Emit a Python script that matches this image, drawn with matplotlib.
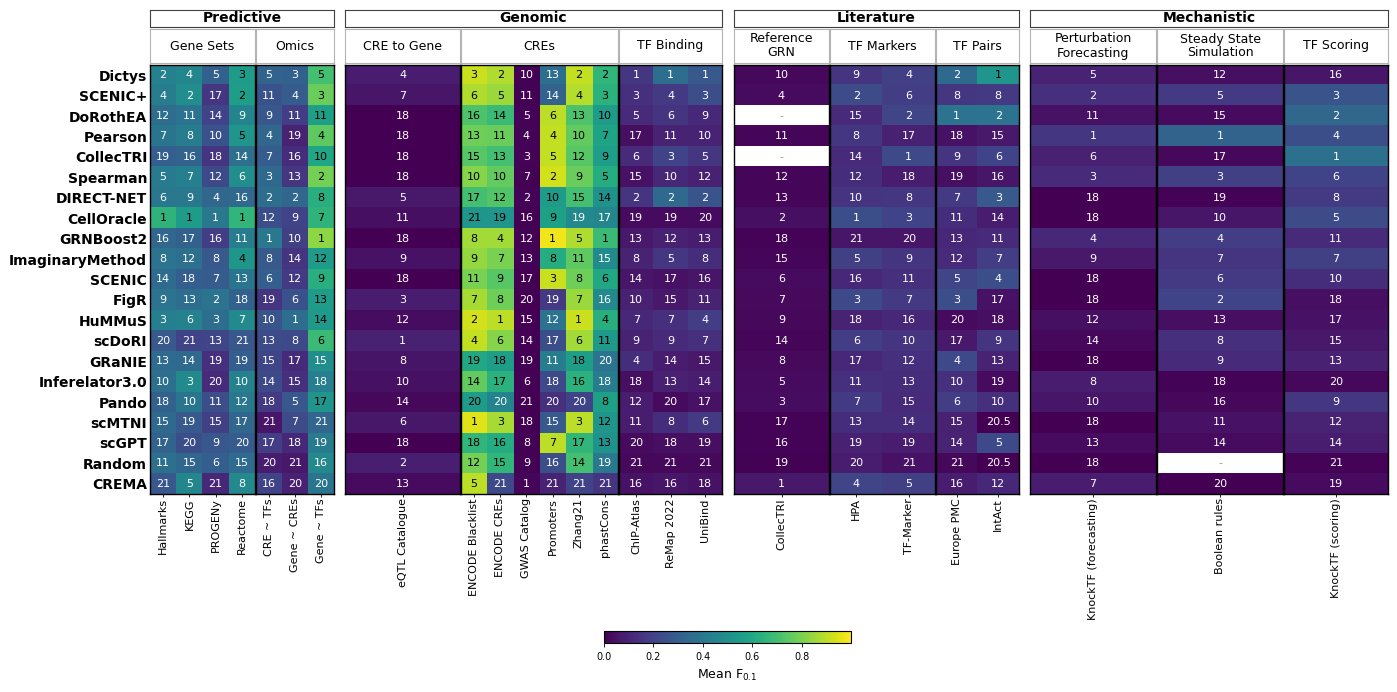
import numpy as np
import matplotlib.pyplot as plt
from matplotlib.cm import ScalarMappable
from matplotlib.colors import Normalize

nan = np.nan

methods = ['Dictys', 'SCENIC+', 'DoRothEA', 'Pearson', 'CollecTRI', 'Spearman',
           'DIRECT-NET', 'CellOracle', 'GRNBoost2', 'ImaginaryMethod', 'SCENIC',
           'FigR', 'HuMMuS', 'scDoRI', 'GRaNIE', 'Inferelator3.0', 'Pando',
           'scMTNI', 'scGPT', 'Random', 'CREMA']

# Mean F0.1 per dataset (rows follow `methods`)
hallmarks = [0.44, 0.42, 0.36, 0.39, 0.30, 0.41, 0.40, 0.65, 0.33, 0.38, 0.35,
             0.38, 0.43, 0.28, 0.35, 0.37, 0.31, 0.34, 0.32, 0.37, 0.27]
kegg = [0.46, 0.49, 0.38, 0.42, 0.32, 0.43, 0.40, 0.55, 0.31, 0.37, 0.30,
        0.36, 0.44, 0.20, 0.34, 0.48, 0.39, 0.28, 0.24, 0.33, 0.46]
progeny = [0.31, 0.16, 0.20, 0.25, 0.15, 0.22, 0.33, 0.40, 0.18, 0.28, 0.29,
           0.38, 0.36, 0.21, 0.14, 0.12, 0.24, 0.19, 0.27, 0.30, 0.11]
reactome = [0.55, 0.56, 0.45, 0.52, 0.37, 0.49, 0.34, 0.66, 0.42, 0.53, 0.39,
            0.31, 0.48, 0.27, 0.30, 0.44, 0.40, 0.33, 0.29, 0.35, 0.47]
cre_tfs = [0.32, 0.25, 0.27, 0.33, 0.29, 0.34, 0.36, 0.24, 0.40, 0.28, 0.30,
           0.15, 0.26, 0.23, 0.21, 0.22, 0.17, 0.06, 0.18, 0.08, 0.20]
gene_cres = [0.31, 0.29, 0.18, 0.10, 0.13, 0.16, 0.33, 0.20, 0.19, 0.15, 0.17,
             0.25, 0.36, 0.22, 0.12, 0.14, 0.27, 0.23, 0.11, 0.07, 0.09]
gene_tfs = [0.70, 0.77, 0.57, 0.75, 0.59, 0.79, 0.63, 0.65, 0.83, 0.55, 0.63,
            0.55, 0.54, 0.68, 0.49, 0.43, 0.52, 0.33, 0.41, 0.47, 0.39]
eqtl = [0.075, 0.06, 0.0, 0.0, 0.0, 0.0, 0.07, 0.04, 0.0, 0.05, 0.0,
        0.08, 0.035, 0.09, 0.055, 0.045, 0.02, 0.065, 0.0, 0.085, 0.03]
encode_blacklist = [0.92, 0.88, 0.72, 0.78, 0.74, 0.82, 0.70, 0.52, 0.86, 0.84, 0.80,
                    0.87, 0.93, 0.91, 0.60, 0.76, 0.55, 0.95, 0.66, 0.79, 0.90]
encode_cres = [0.88, 0.85, 0.68, 0.77, 0.70, 0.76, 0.73, 0.52, 0.86, 0.80, 0.74,
               0.78, 0.90, 0.82, 0.56, 0.64, 0.45, 0.87, 0.62, 0.66, 0.22]
gwas = [0.006, 0.005, 0.008, 0.009, 0.01, 0.007, 0.011, 0.003, 0.005, 0.004, 0.003,
        0.001, 0.003, 0.004, 0.002, 0.007, 0.0, 0.002, 0.006, 0.006, 0.012]
promoters = [0.36, 0.32, 0.90, 0.91, 0.91, 0.93, 0.55, 0.57, 0.98, 0.62, 0.92,
             0.17, 0.38, 0.24, 0.42, 0.22, 0.14, 0.28, 0.90, 0.24, 0.10]
zhang21 = [0.91, 0.89, 0.72, 0.76, 0.74, 0.77, 0.70, 0.48, 0.88, 0.75, 0.78,
           0.85, 0.92, 0.86, 0.56, 0.64, 0.20, 0.90, 0.66, 0.70, 0.20]
phastcons = [0.66, 0.64, 0.55, 0.58, 0.56, 0.62, 0.51, 0.46, 0.68, 0.48, 0.60,
             0.47, 0.63, 0.54, 0.38, 0.42, 0.57, 0.52, 0.51, 0.40, 0.15]
chip_atlas = [0.16, 0.14, 0.12, 0.04, 0.12, 0.05, 0.15, 0.03, 0.07, 0.10, 0.06,
              0.09, 0.11, 0.10, 0.13, 0.04, 0.08, 0.08, 0.03, 0.02, 0.05]
remap = [0.36, 0.17, 0.15, 0.10, 0.20, 0.11, 0.34, 0.03, 0.09, 0.16, 0.05,
         0.07, 0.14, 0.12, 0.08, 0.09, 0.03, 0.13, 0.04, 0.02, 0.06]
unibind = [0.28, 0.24, 0.11, 0.10, 0.16, 0.09, 0.26, 0.03, 0.08, 0.13, 0.06,
           0.10, 0.18, 0.14, 0.07, 0.08, 0.05, 0.17, 0.04, 0.02, 0.05]
collectri_ref = [0.02, 0.03, nan, 0.019, nan, 0.018, 0.016, 0.04, 0.008, 0.012, 0.028,
                 0.026, 0.022, 0.014, 0.025, 0.03, 0.035, 0.009, 0.01, 0.005, 0.07]
hpa = [0.15, 0.23, 0.12, 0.16, 0.12, 0.13, 0.15, 0.24, 0.06, 0.19, 0.11,
       0.22, 0.10, 0.18, 0.11, 0.14, 0.17, 0.13, 0.09, 0.08, 0.21]
tf_marker = [0.19, 0.18, 0.21, 0.09, 0.22, 0.08, 0.16, 0.20, 0.06, 0.15, 0.14,
             0.17, 0.11, 0.15, 0.14, 0.13, 0.12, 0.13, 0.08, 0.05, 0.19]
europe_pmc = [0.34, 0.16, 0.38, 0.05, 0.15, 0.04, 0.17, 0.13, 0.11, 0.12, 0.21,
              0.24, 0.03, 0.07, 0.22, 0.14, 0.18, 0.09, 0.10, 0.02, 0.08]
intact = [0.52, 0.17, 0.38, 0.07, 0.20, 0.06, 0.28, 0.08, 0.12, 0.18, 0.24,
          0.05, 0.04, 0.15, 0.10, 0.03, 0.14, 0.0, 0.22, 0.0, 0.11]
knocktf_fc = [0.10, 0.14, 0.05, 0.16, 0.09, 0.12, 0.0, 0.0, 0.11, 0.07, 0.0,
              0.0, 0.04, 0.02, 0.0, 0.075, 0.06, 0.0, 0.03, 0.0, 0.08]
boolean_rules = [0.04, 0.17, 0.03, 0.32, 0.02, 0.19, 0.01, 0.06, 0.18, 0.15, 0.17,
                 0.20, 0.04, 0.14, 0.12, 0.01, 0.02, 0.05, 0.03, nan, 0.0]
knocktf_sc = [0.06, 0.26, 0.33, 0.24, 0.37, 0.20, 0.17, 0.23, 0.12, 0.19, 0.13,
              0.04, 0.05, 0.07, 0.09, 0.02, 0.16, 0.10, 0.08, 0.01, 0.03]

# rank shown in each cell
hallmarks_r = [2, 4, 12, 7, 19, 5, 6, 1, 16, 8, 14, 9, 3, 20, 13, 10, 18, 15, 17, 11, 21]
kegg_r = [4, 2, 11, 8, 16, 7, 9, 1, 17, 12, 18, 13, 6, 21, 14, 3, 10, 19, 20, 15, 5]
progeny_r = [5, 17, 14, 10, 18, 12, 4, 1, 16, 8, 7, 2, 3, 13, 19, 20, 11, 15, 9, 6, 21]
reactome_r = [3, 2, 9, 5, 14, 6, 16, 1, 11, 4, 13, 18, 7, 21, 19, 10, 12, 17, 20, 15, 8]
cre_tfs_r = [5, 11, 9, 4, 7, 3, 2, 12, 1, 8, 6, 19, 10, 13, 15, 14, 18, 21, 17, 20, 16]
gene_cres_r = [3, 4, 11, 19, 16, 13, 2, 9, 10, 14, 12, 6, 1, 8, 17, 15, 5, 7, 18, 21, 20]
gene_tfs_r = [5, 3, 11, 4, 10, 2, 8, 7, 1, 12, 9, 13, 14, 6, 15, 18, 17, 21, 19, 16, 20]
eqtl_r = [4, 7, 18, 18, 18, 18, 5, 11, 18, 9, 18, 3, 12, 1, 8, 10, 14, 6, 18, 2, 13]
encode_blacklist_r = [3, 6, 16, 13, 15, 10, 17, 21, 8, 9, 11, 7, 2, 4, 19, 14, 20, 1, 18, 12, 5]
encode_cres_r = [2, 5, 14, 11, 13, 10, 12, 19, 4, 7, 9, 8, 1, 6, 18, 17, 20, 3, 16, 15, 21]
gwas_r = [10, 11, 5, 4, 3, 7, 2, 16, 12, 13, 17, 20, 15, 14, 19, 6, 21, 18, 8, 9, 1]
promoters_r = [13, 14, 6, 4, 5, 2, 10, 9, 1, 8, 3, 19, 12, 17, 11, 18, 20, 15, 7, 16, 21]
zhang21_r = [2, 4, 13, 10, 12, 9, 15, 19, 5, 11, 8, 7, 1, 6, 18, 16, 20, 3, 17, 14, 21]
phastcons_r = [2, 3, 10, 7, 9, 5, 14, 17, 1, 15, 6, 16, 4, 11, 20, 18, 8, 12, 13, 19, 21]
chip_atlas_r = [1, 3, 5, 17, 6, 15, 2, 19, 13, 8, 14, 10, 7, 9, 4, 18, 12, 11, 20, 21, 16]
remap_r = [1, 4, 6, 11, 3, 10, 2, 19, 12, 5, 17, 15, 7, 9, 14, 13, 20, 8, 18, 21, 16]
unibind_r = [1, 3, 9, 10, 5, 12, 2, 20, 13, 8, 16, 11, 4, 7, 15, 14, 17, 6, 19, 21, 18]
collectri_ref_r = [10, 4, nan, 11, nan, 12, 13, 2, 18, 15, 6, 7, 9, 14, 8, 5, 3, 17, 16, 19, 1]
hpa_r = [9, 2, 15, 8, 14, 12, 10, 1, 21, 5, 16, 3, 18, 6, 17, 11, 7, 13, 19, 20, 4]
tf_marker_r = [4, 6, 2, 17, 1, 18, 8, 3, 20, 9, 11, 7, 16, 10, 12, 13, 15, 14, 19, 21, 5]
europe_pmc_r = [2, 8, 1, 18, 9, 19, 7, 11, 13, 12, 5, 3, 20, 17, 4, 10, 6, 15, 14, 21, 16]
intact_r = [1, 8, 2, 15, 6, 16, 3, 14, 11, 7, 4, 17, 18, 9, 13, 19, 10, 20.5, 5, 20.5, 12]
knocktf_fc_r = [5, 2, 11, 1, 6, 3, 18, 18, 4, 9, 18, 18, 12, 14, 18, 8, 10, 18, 13, 18, 7]
boolean_rules_r = [12, 5, 15, 1, 17, 3, 19, 10, 4, 7, 6, 2, 13, 8, 9, 18, 16, 11, 14, nan, 20]
knocktf_sc_r = [16, 3, 2, 4, 1, 6, 8, 5, 11, 7, 10, 18, 17, 15, 13, 20, 9, 12, 14, 21, 19]

W, H = 1397, 692


def box(x0, y0, x1, y1):
    # pixel box -> figure fraction
    return [x0 / W, 1 - y1 / H, (x1 - x0) / W, (y1 - y0) / H]


panels = [
    ('Gene Sets', ['Hallmarks', 'KEGG', 'PROGENy', 'Reactome'],
     [hallmarks, kegg, progeny, reactome],
     [hallmarks_r, kegg_r, progeny_r, reactome_r], 150, 255),
    ('Omics', ['CRE ~ TFs', 'Gene ~ CREs', 'Gene ~ TFs'],
     [cre_tfs, gene_cres, gene_tfs], [cre_tfs_r, gene_cres_r, gene_tfs_r], 256, 334),
    ('CRE to Gene', ['eQTL Catalogue'], [eqtl], [eqtl_r], 345, 460),
    ('CREs', ['ENCODE Blacklist', 'ENCODE CREs', 'GWAS Catalog', 'Promoters', 'Zhang21', 'phastCons'],
     [encode_blacklist, encode_cres, gwas, promoters, zhang21, phastcons],
     [encode_blacklist_r, encode_cres_r, gwas_r, promoters_r, zhang21_r, phastcons_r], 461, 618),
    ('TF Binding', ['ChIP-Atlas', 'ReMap 2022', 'UniBind'],
     [chip_atlas, remap, unibind], [chip_atlas_r, remap_r, unibind_r], 619, 722),
    ('Reference\nGRN', ['CollecTRI'], [collectri_ref], [collectri_ref_r], 734, 829),
    ('TF Markers', ['HPA', 'TF-Marker'], [hpa, tf_marker], [hpa_r, tf_marker_r], 830, 935),
    ('TF Pairs', ['Europe PMC', 'IntAct'], [europe_pmc, intact], [europe_pmc_r, intact_r], 936, 1019),
    ('Perturbation\nForecasting', ['KnockTF (forecasting)'], [knocktf_fc], [knocktf_fc_r], 1030, 1156),
    ('Steady State\nSimulation', ['Boolean rules'], [boolean_rules], [boolean_rules_r], 1157, 1283),
    ('TF Scoring', ['KnockTF (scoring)'], [knocktf_sc], [knocktf_sc_r], 1284, 1388),
]

groups = [('Predictive', 150, 334), ('Genomic', 345, 722),
          ('Literature', 734, 1019), ('Mechanistic', 1030, 1388)]

cmap = plt.get_cmap('viridis').copy()
cmap.set_bad('white')
norm = Normalize(vmin=0, vmax=1)

fig = plt.figure(figsize=(W / 100, H / 100), dpi=100)

for k, (title, cols, vals, ranks, x0, x1) in enumerate(panels):
    data = np.array(vals, dtype=float).T
    rk = np.array(ranks, dtype=float).T
    ax = fig.add_axes(box(x0, 65, x1, 494))
    ax.imshow(np.ma.masked_invalid(data), cmap=cmap, norm=norm, aspect='auto',
              interpolation='nearest')
    for i in range(data.shape[0]):
        for j in range(data.shape[1]):
            v = data[i, j]
            r = rk[i, j]
            if np.isnan(v) or np.isnan(r):
                ax.text(j, i, '-', ha='center', va='center', fontsize=8, color='0.6')
                continue
            lab = str(int(r)) if r == int(r) else str(r)
            ax.text(j, i, lab, ha='center', va='center', fontsize=8,
                    color='black' if v > 0.5 else 'white')
    ax.set_xticks(range(len(cols)))
    ax.set_xticklabels(cols, rotation=90, fontsize=8)
    ax.tick_params(axis='x', length=2, width=0.6, pad=1)
    if k == 0:
        ax.set_yticks(range(len(methods)))
        ax.set_yticklabels(methods, fontsize=10, fontweight='bold')
        ax.tick_params(axis='y', length=0, pad=2)
    else:
        ax.set_yticks([])
    for sp in ax.spines.values():
        sp.set_linewidth(1.0)
        sp.set_color('black')

    hax = fig.add_axes(box(x0, 29, x1, 63))
    hax.set_xticks([])
    hax.set_yticks([])
    for sp in hax.spines.values():
        sp.set_color('0.7')
        sp.set_linewidth(0.8)
    hax.text(0.5, 0.5, title, ha='center', va='center', fontsize=9,
             linespacing=1.1, transform=hax.transAxes)

for name, x0, x1 in groups:
    gax = fig.add_axes(box(x0, 10, x1, 27))
    gax.set_xticks([])
    gax.set_yticks([])
    for sp in gax.spines.values():
        sp.set_color('0.25')
        sp.set_linewidth(0.8)
    gax.text(0.5, 0.5, name, ha='center', va='center', fontsize=10,
             fontweight='bold', transform=gax.transAxes)

cax = fig.add_axes(box(604, 631, 851, 643))
cb = fig.colorbar(ScalarMappable(norm=norm, cmap=cmap), cax=cax, orientation='horizontal',
                  ticks=[0.0, 0.2, 0.4, 0.6, 0.8])
cb.ax.tick_params(labelsize=7, length=3, width=0.6)
cb.set_label('Mean F$_{0.1}$', fontsize=9)
cb.outline.set_linewidth(0.8)

fig.savefig('out.png', dpi=100)
